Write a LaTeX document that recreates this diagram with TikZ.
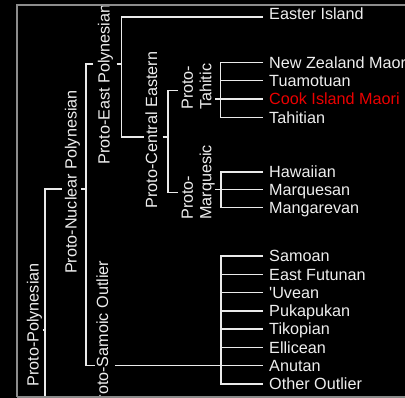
\documentclass[tikz,border=0pt]{standalone}
\usepackage{fontspec}
\setmainfont{Liberation Sans}
\definecolor{txtc}{RGB}{238,238,238}
\definecolor{linec}{RGB}{234,234,234}
\definecolor{redc}{RGB}{235,0,0}
\definecolor{framec}{RGB}{140,140,140}
\begin{document}
\begin{tikzpicture}[x=1pt,y=-1pt,
  ln/.style={draw=linec, line width=1.4pt},
  leaf/.style={anchor=west, inner sep=0pt, text height=11.5pt, text depth=0pt, text=txtc, font=\fontsize{16.2}{18.5}\selectfont},
  rlab/.style={rotate=90, anchor=base, inner sep=0pt, text=txtc, font=\fontsize{16.2}{18.5}\selectfont},
  rlabtwo/.style={rotate=90, anchor=north west, align=left, inner sep=0pt, text=txtc, font=\fontsize{16.2}{18.5}\selectfont}]
\useasboundingbox (0,0) rectangle (405,398);
\fill[black] (0,0) rectangle (405,398);
\clip (0,0) rectangle (405,398);

% bracket columns
\coordinate (ppx) at (45,0);
\coordinate (pnpx) at (86,0);
\coordinate (pepx) at (121.5,0);
\coordinate (pcex) at (168,0);
\coordinate (ptx) at (220.5,0);
\coordinate (pmx) at (221,0);
\coordinate (psox) at (221,0);

% leaves
\node[leaf] (ei) at (269,13.7) {Easter Island};
\coordinate (eiL) at (263,17);
\node[leaf] (nzm) at (269,62.5) {New Zealand Maori};
\node[leaf] (tua) at (269,80.8) {Tuamotuan};
\node[leaf,text=redc] (cim) at (269,99.1) {Cook Island Maori};
\node[leaf] (tah) at (269,117.4) {Tahitian};
\node[leaf] (haw) at (269,172) {Hawaiian};
\node[leaf] (mar) at (269,189.8) {Marquesan};
\node[leaf] (man) at (269,207.6) {Mangarevan};
\node[leaf] (sam) at (269,256) {Samoan};
\node[leaf] (efu) at (269,274.3) {East Futunan};
\node[leaf] (uve) at (269,292.6) {\textquotesingle Uvean};
\node[leaf] (puk) at (269,310.9) {Pukapukan};
\node[leaf] (tik) at (269,329.1) {Tikopian};
\node[leaf] (ell) at (269,347.4) {Ellicean};
\node[leaf] (anu) at (269,365.7) {Anutan};
\node[leaf] (oth) at (269,384) {Other Outlier};

% rotated labels
\node[rlab] (pp) at (38.5,325) {Proto-Polynesian};
\node[rlab] (pnp) at (76.5,182) {Proto-Nuclear Polynesian};
\node[rlab] (pep) at (109.5,84.5) {Proto-East Polynesian};
\node[rlab] (pce) at (157,130) {Proto-Central Eastern};
\node[rlab] (pso) at (108,336) {Proto-Samoic Outlier};
\node[rlabtwo] (pt) at (181.5,110) {Proto-\\Tahitic};
\node[rlabtwo] (pm) at (181.5,220) {Proto-\\Marquesic};

% Proto-Polynesian
\draw[ln] (42.5,330) -- (ppx |- 0,330);
\draw[ln] (ppx |- 0,470) -- (ppx |- 0,189) -- (62,189);
% Proto-Nuclear Polynesian
\draw[ln] (81,189) -- (pnpx |- 0,189);
\draw[ln] (93,64) -- (pnpx |- 0,64) -- (pnpx |- anu.west) -- (95,0 |- anu.west);
% Proto-East Polynesian
\draw[ln] (116.5,64) -- (pepx |- 0,64);
\draw[ln] (eiL) -- (pepx |- eiL) -- (pepx |- 0,137) -- (143.5,137);
% Proto-Central Eastern
\draw[ln] (162.5,137) -- (pcex |- 0,137);
\draw[ln] (178,90.5) -- (pcex |- 0,90.5) -- (pcex |- 0,192.5) -- (178,192.5);
% Proto-Tahitic
\draw[ln] (215,0 |- cim.west) -- (ptx |- cim.west);
\draw[ln] ([xshift=-6pt]nzm.west) -- (ptx |- nzm.west) -- (ptx |- tah.west) -- ([xshift=-6pt]tah.west);
\foreach \n in {tua,cim}
  \draw[ln] (ptx |- \n.west) -- ([xshift=-6pt]\n.west);
% Proto-Marquesic
\draw[ln] (215,0 |- mar.west) -- (pmx |- mar.west);
\draw[ln] ([xshift=-6pt]haw.west) -- (pmx |- haw.west) -- (pmx |- man.west) -- ([xshift=-6pt]man.west);
\draw[ln] (pmx |- mar.west) -- ([xshift=-6pt]mar.west);
% Proto-Samoic Outlier
\draw[ln] (115,0 |- anu.west) -- (psox |- anu.west);
\draw[ln] ([xshift=-6pt]sam.west) -- (psox |- sam.west) -- (psox |- oth.west) -- ([xshift=-6pt]oth.west);
\foreach \n in {efu,uve,puk,tik,ell,anu}
  \draw[ln] (psox |- \n.west) -- ([xshift=-6pt]\n.west);

% frame
\draw[draw=framec, line width=2pt] (17,396.6) -- (17,5) -- (420,5);
\draw[draw=framec, line width=2pt] (17,396.6) -- (420,396.6);
\end{tikzpicture}
\end{document}
